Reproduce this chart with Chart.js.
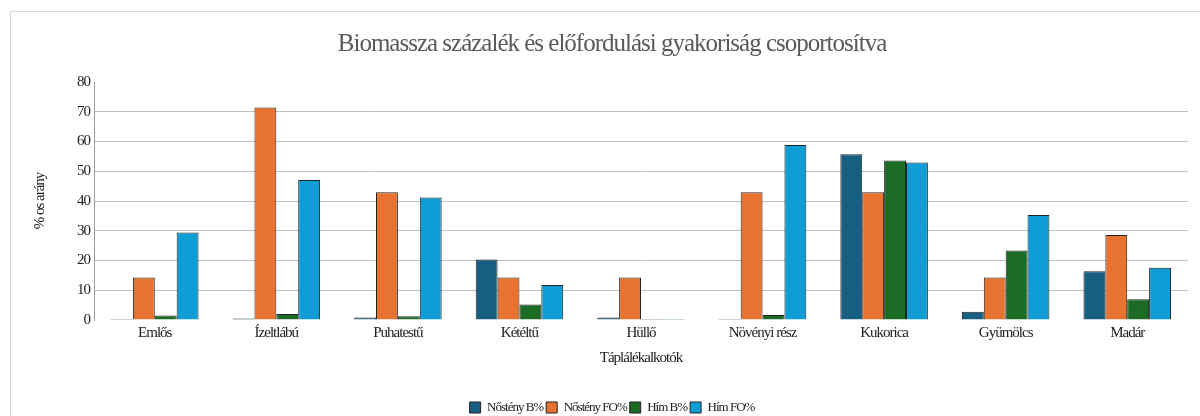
<!DOCTYPE html>
<html>
<head>
<meta charset="utf-8">
<script src="https://cdn.jsdelivr.net/npm/chart.js@4/dist/chart.umd.min.js"></script>
<style>
  body { margin: 0; background: #fff; }
  #wrap { position: relative; width: 1200px; height: 416px; overflow: hidden; }
  #frame { position: absolute; left: 10px; top: 11px; width: 1300px; height: 500px;
           border-left: 1px solid #d9d9d9; border-top: 1px solid #d9d9d9; }
  #box { position: absolute; left: 0; top: 0; width: 1200px; height: 416px; }
</style>
</head>
<body>
<div id="wrap">
  <div id="frame"></div>
  <div id="box"><canvas id="bar-chart"></canvas></div>
</div>
<script>
// categories (food items)
var categories = ["Emlős", "Ízeltlábú", "Puhatestű", "Kétéltű", "Hüllő", "Növényi rész", "Kukorica", "Gyümölcs", "Madár"];
// series values, %
var nostenyB  = [0.2, 0.5, 0.8, 20.3, 0.8, 0.3, 55.7, 2.8, 16.4];
var nostenyFO = [14.3, 71.4, 42.9, 14.3, 14.3, 42.9, 42.9, 14.3, 28.6];
var himB      = [1.5, 2.0, 1.3, 5.2, 0, 1.7, 53.6, 23.4, 7.0];
var himFO     = [29.4, 47.1, 41.2, 11.8, 0, 58.8, 52.9, 35.3, 17.6];
var yTicks = [0, 10, 20, 30, 40, 50, 60, 70, 80];

// squeeze the text a bit like the original office export
var tightText = {
  id: "tightText",
  beforeLayout: function (c) { c.ctx.letterSpacing = "-1px"; },
  beforeDraw: function (c) { c.ctx.letterSpacing = "-1px"; }
};

Chart.defaults.font.family = "'Liberation Serif', serif";
Chart.defaults.color = "#222";

new Chart("bar-chart", {
  type: "bar",
  data: {
    labels: categories,
    datasets: [
      { label: "Nőstény B%",  data: nostenyB,  backgroundColor: "#175f82" },
      { label: "Nőstény FO%", data: nostenyFO, backgroundColor: "#e87331" },
      { label: "Hím B%",      data: himB,      backgroundColor: "#1b6b24" },
      { label: "Hím FO%",     data: himFO,     backgroundColor: "#0f9dd6" }
    ]
  },
  plugins: [tightText],
  options: {
    responsive: true,
    maintainAspectRatio: false,
    animation: false,
    minBarLength: 1,
    datasets: {
      bar: { categoryPercentage: 0.72, barPercentage: 1.0, borderWidth: 1, borderColor: "#222" }
    },
    layout: { padding: { left: 36, right: 12, top: 0, bottom: -8 } },
    plugins: {
      title: {
        display: true,
        text: "Biomassza százalék és előfordulási gyakoriság csoportosítva",
        color: "#595959",
        font: { size: 25, weight: "normal" },
        padding: { top: 29, bottom: 23 }
      },
      legend: {
        position: "bottom",
        labels: { boxWidth: 11, boxHeight: 11, font: { size: 13 }, color: "#222", padding: 3 }
      },
      tooltip: { enabled: false }
    },
    scales: {
      x: {
        grid: { display: false, drawTicks: false },
        border: { display: false },
        ticks: { font: { size: 15 }, color: "#222", padding: 4, maxRotation: 0 },
        title: { display: true, text: "Táplálékalkotók", font: { size: 15 }, color: "#222", padding: { top: 8, bottom: 31 } },
        afterFit: function (s) { s.height = 78; }
      },
      y: {
        min: 0,
        max: 80,
        afterBuildTicks: function (s) { s.ticks = yTicks.map(function (v) { return { value: v }; }); },
        ticks: { font: { size: 15 }, color: "#222", padding: 4 },
        grid: {
          drawTicks: false,
          color: function (ctx) { return (ctx.tick && (ctx.tick.value === 0 || ctx.tick.value === 80)) ? "rgba(0,0,0,0)" : "#c0c0c0"; }
        },
        border: { display: true, color: "#9a9a9a" },
        title: { display: true, text: "% os arány", font: { size: 15 }, color: "#222", padding: { top: -5, bottom: 0 } },
        afterFit: function (s) { s.width = 58; }
      }
    }
  }
});
</script>
</body>
</html>
